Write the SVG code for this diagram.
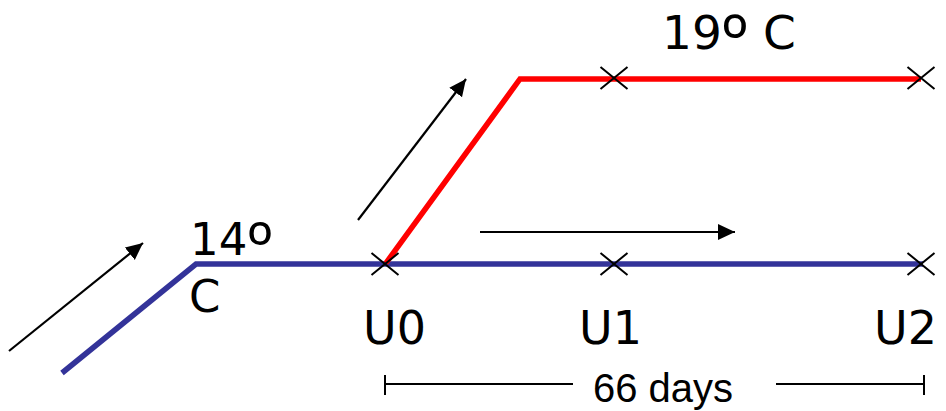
<svg xmlns="http://www.w3.org/2000/svg" width="946" height="411" viewBox="0 0 946 411">
<style>
.lbl{font-family:"DejaVu Sans",Verdana,sans-serif;fill:#000}
.deg{font-family:"Noto Sans","Open Sans",sans-serif}
.days{font-family:"Liberation Sans",Arial,sans-serif;font-size:40px;fill:#000}
.blue{fill:none;stroke:#333399;stroke-width:5.5;stroke-linejoin:miter}
.red{fill:none;stroke:#ff0000;stroke-width:5.5;stroke-linejoin:miter}
.x{stroke:#000;stroke-width:2;fill:none}
.arr{stroke:#000;stroke-width:2.2;fill:none;marker-end:url(#ah)}
.bar{stroke:#000;stroke-width:2;fill:none}
</style>
<defs>
<marker id="ah" markerUnits="userSpaceOnUse" markerWidth="20" markerHeight="18" refX="17" refY="8" orient="auto">
<path d="M0,0 L17,8 L0,16 z" fill="#000"/>
</marker>
<path id="xm" d="M-13.5,-11 L13.5,11 M-13.5,11 L13.5,-11"/>
</defs>
<g id="connectors">
<polyline class="blue" points="62,373 196,264 923,264"/>
<polyline class="red" points="386,263 520,79 921,79"/>
<line class="arr" x1="9" y1="351" x2="143" y2="243"/>
<line class="arr" x1="358" y1="220" x2="466" y2="79"/>
<line class="arr" x1="480" y1="232" x2="735" y2="232"/>
</g>
<g id="marks">
<use href="#xm" class="x" x="385" y="264"/>
<use href="#xm" class="x" x="614" y="264"/>
<use href="#xm" class="x" x="921" y="264"/>
<use href="#xm" class="x" x="614" y="78"/>
<use href="#xm" class="x" x="921" y="78"/>
</g>
<g id="label-14">
<text class="lbl" x="190" y="255" font-size="45">14<tspan class="deg" font-size="68" dy="16">º</tspan></text>
<text class="lbl" x="189" y="312" font-size="45">C</text>
</g>
<g id="label-19">
<text class="lbl" x="662" y="49" font-size="47">19<tspan class="deg" font-size="70" dy="16">º</tspan><tspan dy="-16"> C</tspan></text>
</g>
<g id="U0"><text class="lbl" x="363" y="344" font-size="46">U0</text></g>
<g id="U1"><text class="lbl" x="579" y="344" font-size="46">U1</text></g>
<g id="U2"><text class="lbl" x="874" y="344" font-size="46">U2</text></g>
<g id="scale">
<path class="bar" d="M385,375 V395 M385,384 H573 M776,384 H924 M924,375 V395"/>
<text class="days" x="593" y="402">66 days</text>
</g>
</svg>
